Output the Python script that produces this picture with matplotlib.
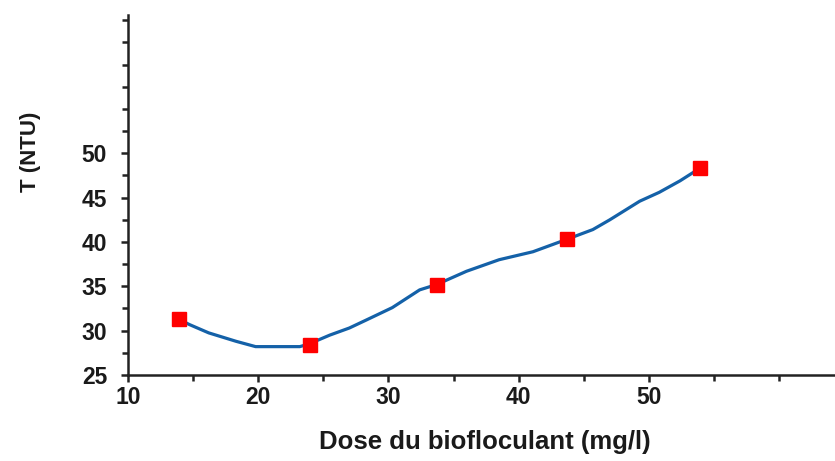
import matplotlib
matplotlib.use("Agg")
import matplotlib.pyplot as plt
from matplotlib.ticker import MultipleLocator, FixedLocator

# Measured points (red squares)
dose_pts = [13.9, 24.0, 33.7, 43.7, 53.9]
turb_pts = [31.3, 28.4, 35.2, 40.3, 48.3]

# Fitted curve
curve_x = [13.9, 14.7, 16.2, 18.3, 19.8, 23.2, 23.9, 25.5, 27.0, 28.3, 30.3,
           32.4, 33.7, 36.0, 38.5, 41.1, 43.7, 45.7, 47.0, 49.3, 50.8, 52.4, 53.9]
curve_y = [31.3, 30.7, 29.75, 28.8, 28.2, 28.2, 28.5, 29.5, 30.3, 31.2, 32.6,
           34.6, 35.2, 36.7, 38.0, 38.9, 40.3, 41.4, 42.5, 44.6, 45.6, 46.9, 48.3]

x_ticks = [10, 20, 30, 40, 50]
y_ticks = [25, 30, 35, 40, 45, 50]

plt.rcParams['font.family'] = ['Liberation Sans', 'DejaVu Sans']

fig = plt.figure(figsize=(8.35, 4.61), dpi=100)
ax = fig.add_axes([128/835, 86/461, 1 - 128/835, 360/461])

ax.plot(curve_x, curve_y, color='#1461a8', lw=2.3, zorder=2)
ax.plot(dose_pts, turb_pts, 's', color='#ff0000', markersize=9.5, zorder=3)

ax.set_xlim(10, 64.3)
ax.set_ylim(25, 65.6)

for s in ['top', 'right']:
    ax.spines[s].set_visible(False)
for s in ['left', 'bottom']:
    ax.spines[s].set_linewidth(1.8)
    ax.spines[s].set_color('#222222')

ax.xaxis.set_major_locator(FixedLocator(x_ticks))
ax.xaxis.set_minor_locator(MultipleLocator(5))
ax.yaxis.set_major_locator(FixedLocator(y_ticks))
ax.yaxis.set_minor_locator(MultipleLocator(2.5))
ax.set_xticklabels([str(v) for v in x_ticks])
ax.set_yticklabels([str(v) for v in y_ticks])

ax.tick_params(axis='both', which='both', direction='out', color='#222222', width=1.8)
ax.tick_params(axis='both', which='major', length=5, labelsize=16.5)
ax.tick_params(axis='both', which='minor', length=4)
ax.tick_params(axis='x', which='major', pad=3)
ax.tick_params(axis='y', which='major', pad=10)
for lab in ax.get_xticklabels() + ax.get_yticklabels():
    lab.set_fontweight('bold')
    lab.set_color('#1a1a1a')

ax.set_xlabel('Dose du biofloculant (mg/l)', fontsize=18.5, fontweight='bold', color='#1a1a1a')
ax.xaxis.set_label_coords((485 - 128) / 707, -(430 - 375) / 360)
ax.set_ylabel('T (NTU)', fontsize=16, fontweight='bold', color='#1a1a1a')
ax.yaxis.set_label_coords(-(128 - 41) / 707, (375 - 152) / 360)

fig.savefig('out.png', dpi=100)
